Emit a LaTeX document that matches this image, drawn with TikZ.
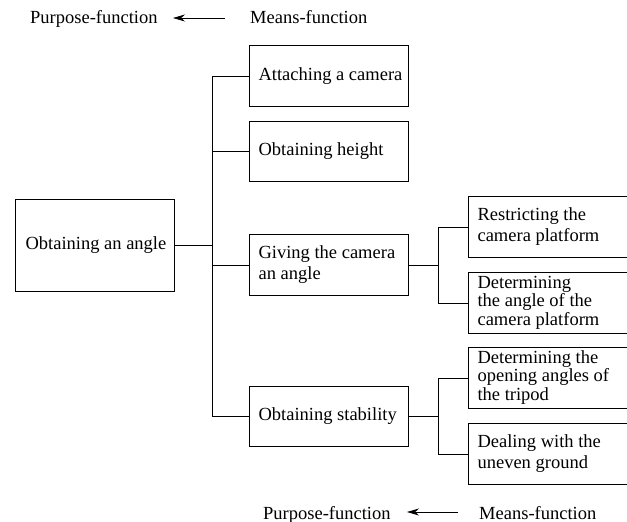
\documentclass[tikz,border=0pt]{standalone}
\usepackage{fontspec}
\setmainfont{Liberation Serif}
\usetikzlibrary{arrows.meta,calc}
\newcommand\boxtext[2][141bp]{\makebox[#1][l]{\begin{tabular}{@{}l@{}}#2\end{tabular}}}
\begin{document}
\begin{tikzpicture}[x=1bp,y=-1bp,
  every node/.style={font=\fontsize{18.5bp}{20.5bp}\selectfont},
  box/.style={draw, line width=1.1bp, anchor=north west, minimum width=159bp,
    inner xsep=9bp, inner ysep=0bp, align=left},
  tight/.style={font=\fontsize{18.5bp}{18.5bp}\selectfont},
  conn/.style={line width=0.8bp},
  lbl/.style={anchor=base west, inner sep=0pt},
  pm/.style={line width=0.8bp, -{Stealth[length=12bp,width=7bp]}}]
\useasboundingbox (0,0) rectangle (627,522);
% header
\node[lbl] (p1) at (30,24) {Purpose-function};
\node[lbl] (m1) at (250,24) {Means-function};
\coordinate (m1s) at (225,18);
\coordinate (p1e) at (173,18);
\draw[pm] (m1s) -- (p1e);
% footer
\node[lbl] (p2) at (263,519) {Purpose-function};
\node[lbl] (m2) at (479,519) {Means-function};
\coordinate (m2s) at (458,512);
\coordinate (p2e) at (407,512);
\draw[pm] (m2s) -- (p2e);
% boxes
\node[box, minimum height=92bp, inner xsep=10bp] (root) at (15,199) {\boxtext[139bp]{Obtaining an angle}};
\node[box, minimum height=61bp] (a1) at (249,45) {\boxtext{Attaching a camera}};
\node[box, minimum height=60bp] (a2) at (249,121) {\boxtext{Obtaining height}};
\node[box, minimum height=61bp] (a3) at (249,234) {\boxtext{Giving the camera\\an angle}};
\node[box, minimum height=60bp] (a4) at (249,386) {\boxtext{Obtaining stability}};
\node[box, minimum height=61bp] (b1) at (468,196) {\boxtext{Restricting the\\camera platform}};
\node[box, minimum height=61bp, tight] (b2) at (468,272) {\boxtext{Determining\\the angle of the\\camera platform}};
\node[box, minimum height=61bp, tight] (c1) at (468,347) {\boxtext{Determining the\\opening angles of\\the tripod}};
\node[box, minimum height=61bp] (c2) at (468,423) {\boxtext{Dealing with the\\uneven ground}};
% connectors
\coordinate (bus) at (212,0);
\coordinate (busb) at (438,0);
\draw[conn] (root.east) -- (root.east -| bus);
\draw[conn] (a1.west) -- (a1.west -| bus) -- (a4.west -| bus) -- (a4.west);
\draw[conn] (a2.west) -- (a2.west -| bus);
\draw[conn] (a3.west) -- (a3.west -| bus);
\draw[conn] (a3.east) -- (a3.east -| busb);
\draw[conn] (b1.west) -- (b1.west -| busb) -- (b2.west -| busb) -- (b2.west);
\draw[conn] (a4.east) -- (a4.east -| busb);
\draw[conn] (c1.west) -- (c1.west -| busb) -- (c2.west -| busb) -- (c2.west);
\end{tikzpicture}
\end{document}
